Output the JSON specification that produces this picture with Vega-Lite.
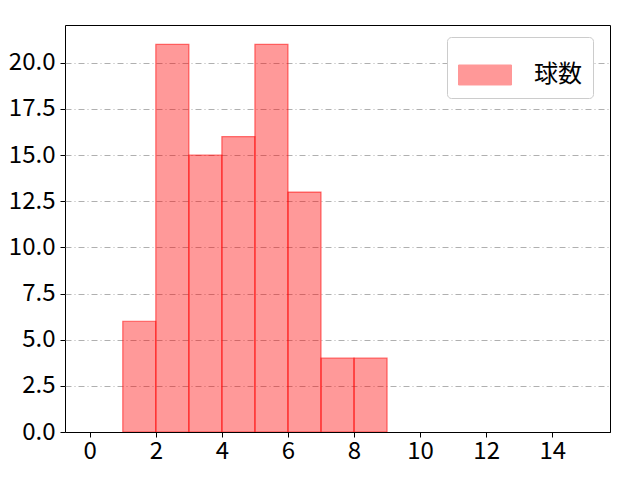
{
  "$schema": "https://vega.github.io/schema/vega-lite/v6.json",
  "width": 545,
  "height": 407,
  "autosize": "none",
  "padding": {"left": 65, "top": 25, "right": 30, "bottom": 48},
  "background": "white",
  "config": {
    "font": "Noto Sans CJK JP",
    "view": {"stroke": "black", "strokeWidth": 1}
  },
  "data": {
    "values": [
      {"bin_start": 1, "bin_end": 2, "count": 6, "series": "球数"},
      {"bin_start": 2, "bin_end": 3, "count": 21, "series": "球数"},
      {"bin_start": 3, "bin_end": 4, "count": 15, "series": "球数"},
      {"bin_start": 4, "bin_end": 5, "count": 16, "series": "球数"},
      {"bin_start": 5, "bin_end": 6, "count": 21, "series": "球数"},
      {"bin_start": 6, "bin_end": 7, "count": 13, "series": "球数"},
      {"bin_start": 7, "bin_end": 8, "count": 4, "series": "球数"},
      {"bin_start": 8, "bin_end": 9, "count": 4, "series": "球数"}
    ]
  },
  "mark": {
    "type": "rect",
    "fillOpacity": 0.4,
    "stroke": "#ff0000",
    "strokeOpacity": 0.55,
    "strokeWidth": 1.2
  },
  "encoding": {
    "x": {
      "field": "bin_start",
      "type": "quantitative",
      "scale": {"domain": [-0.75, 15.75], "nice": false, "zero": false},
      "axis": {
        "title": null,
        "values": [0, 2, 4, 6, 8, 10, 12, 14],
        "grid": false,
        "domain": true,
        "domainColor": "black",
        "zindex": 1,
        "tickColor": "black",
        "tickSize": 5,
        "labelFont": "Noto Sans CJK JP",
        "labelFontSize": 24,
        "labelColor": "black",
        "labelPadding": 2
      }
    },
    "x2": {"field": "bin_end"},
    "y": {
      "field": "count",
      "type": "quantitative",
      "scale": {"domain": [0, 22.05], "nice": false},
      "axis": {
        "title": null,
        "values": [0, 2.5, 5, 7.5, 10, 12.5, 15, 17.5, 20],
        "format": ".1f",
        "grid": true,
        "gridColor": "#b0b0b0",
        "gridDash": [6, 3, 1, 3],
        "gridWidth": 1,
        "domain": false,
        "tickColor": "black",
        "tickSize": 5,
        "labelFont": "Noto Sans CJK JP",
        "labelFontSize": 24,
        "labelColor": "black",
        "labelPadding": 5
      }
    },
    "y2": {"datum": 0},
    "color": {
      "field": "series",
      "type": "nominal",
      "scale": {"range": ["#ff0000"]},
      "legend": {
        "title": null,
        "orient": "none",
        "legendX": 382,
        "legendY": 12,
        "padding": 11,
        "fillColor": "white",
        "strokeColor": "#cccccc",
        "cornerRadius": 4,
        "symbolType": "M-1,-0.377H1V0.377H-1Z",
        "symbolSize": 2809,
        "symbolOpacity": 0.4,
        "symbolStrokeColor": "#ff0000",
        "symbolStrokeWidth": 1,
        "labelFont": "Noto Sans CJK JP",
        "labelFontSize": 24,
        "labelColor": "black",
        "labelOffset": 22
      }
    }
  }
}
